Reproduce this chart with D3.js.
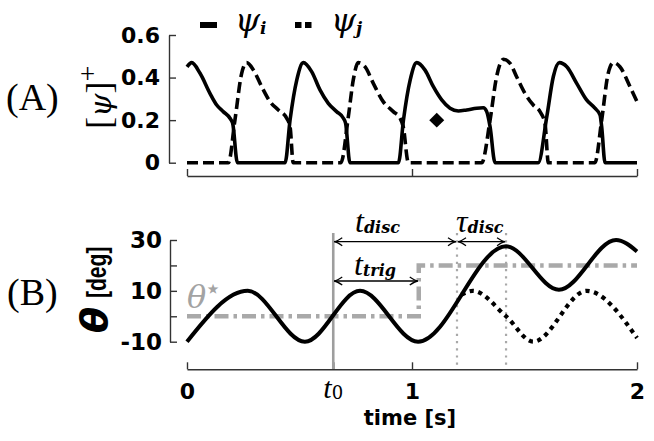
<!DOCTYPE html>
<html><head><meta charset="utf-8">
<script src="https://cdn.jsdelivr.net/npm/d3@7"></script>
<style>body{margin:0;background:#fff}svg{display:block}</style>
</head><body>
<svg id="c" width="654" height="441"></svg>
<script>
// ---------- data ----------
const psiI_t = [0,0.021,0.058,0.102,0.132,0.161,0.191,0.203,0.224,
  0.436,0.458,0.488,0.517,0.554,0.591,0.628,0.665,0.695,0.705,0.724,
  0.94,0.962,0.992,1.021,1.058,1.095,1.132,1.169,1.206,1.243,1.288,1.317,1.332,1.347,1.369,
  1.561,1.599,1.628,1.655,1.688,1.732,1.776,1.813,1.836,1.843,1.858,2];
const psiI_v = [0.45,0.47,0.42,0.326,0.271,0.24,0.209,0.185,0,
  0,0.2,0.389,0.47,0.428,0.342,0.279,0.24,0.209,0.185,0,
  0,0.2,0.389,0.47,0.435,0.357,0.295,0.256,0.243,0.248,0.256,0.258,0.24,0.169,0,
  0,0.216,0.404,0.47,0.451,0.373,0.295,0.256,0.224,0.169,0,0];
const psiJ_t = [0,0.184,0.213,0.243,0.265,0.295,0.332,0.369,0.406,0.443,0.458,0.472,
  0.684,0.717,0.739,0.761,0.791,0.828,0.872,0.917,0.947,0.961,0.984,
  1.31,1.347,1.376,1.406,1.436,1.465,1.502,1.539,1.569,1.591,1.606,
  1.813,1.843,1.872,1.895,1.924,1.969,2];
const psiJ_v = [0,0,0.2,0.42,0.47,0.436,0.357,0.287,0.248,0.209,0.169,0,
  0,0.216,0.389,0.47,0.451,0.373,0.287,0.24,0.209,0.169,0,
  0,0.2,0.404,0.486,0.467,0.404,0.326,0.271,0.24,0.185,0,
  0,0.2,0.42,0.47,0.451,0.357,0.287];
const diamondT = [1.11], diamondV = [0.2];
const yTicksA = [0, 0.2, 0.4, 0.6];
const yTickLabelsA = ["0", "0.2", "0.4", "0.6"];
const xTicksA = [0, 1, 2];

const theta_t = [0, 0.27, 0.524, 0.769, 1.027, 1.418, 1.653, 1.907, 2];
const theta_v = [-10, 10, -10, 10, -10, 27.5, 10.4, 30, 25.5];
const thetaDot_t = [1.22, 1.27, 1.418, 1.539, 1.776, 2];
const thetaDot_v = [8.5, 10, 0, -10, 10, -8.5];
const thetaStar_t = [0, 1.03, 1.03, 2];
const thetaStar_v = [0, 0, 20, 20];
const t0 = 0.65, tTrig = 1.03, tDisc = 1.2, tauDisc = 1.418;
const xTicksB = [0, t0, 1, 2];
const xTickLabelsB = ["0", "", "1", "2"];
const yTicksB = [-10, 0, 10, 20, 30];
const yTickLabelsB = ["-10", "", "10", "", "30"];

// ---------- scales ----------
const svg = d3.select("#c");
const x = d3.scaleLinear().domain([0, 2]).range([187, 637]);
const yA = d3.scaleLinear().domain([0, 0.6]).range([162.7, 35]);
const yB = d3.scaleLinear().domain([-10, 30]).range([341.7, 240]);

const tickFont = "'DejaVu Sans', sans-serif";
function styleAxis(g) {
  g.selectAll("path.domain").attr("stroke", "#333").attr("stroke-width", 1.4);
  g.selectAll(".tick line").attr("stroke", "#333").attr("stroke-width", 1.4);
  g.selectAll(".tick text").attr("font-family", tickFont).attr("font-weight", "bold")
    .attr("font-size", 22).attr("fill", "#000");
}

// ---------- panel A ----------
const gAy = svg.append("g").attr("transform", "translate(169,0)")
  .call(d3.axisLeft(yA).tickValues(yTicksA).tickFormat((d, i) => yTickLabelsA[i])
    .tickSizeInner(-7).tickSizeOuter(0).tickPadding(9));
styleAxis(gAy);
const gAx = svg.append("g").attr("transform", "translate(0,176)")
  .call(d3.axisBottom(x).tickValues(xTicksA).tickFormat("").tickSizeInner(-7).tickSizeOuter(0));
styleAxis(gAx);

const lineA = d3.line().x(d => x(d[0])).y(d => yA(d[1])).curve(d3.curveMonotoneX);
svg.append("path").datum(psiJ_t.map((t, i) => [t, psiJ_v[i]]))
  .attr("d", lineA).attr("fill", "none").attr("stroke", "#000").attr("stroke-width", 3.6)
  .attr("stroke-dasharray", "11,5");
svg.append("path").datum(psiI_t.map((t, i) => [t, psiI_v[i]]))
  .attr("d", lineA).attr("fill", "none").attr("stroke", "#000").attr("stroke-width", 3.6);
svg.selectAll("path.diam").data(diamondT.map((t, i) => [t, diamondV[i]])).join("path")
  .attr("class", "diam")
  .attr("d", d3.symbol(d3.symbolSquare, 112)())
  .attr("transform", d => `translate(${x(d[0])},${yA(d[1])}) rotate(45)`)
  .attr("fill", "#000");

// legend
svg.append("line").attr("x1", 200).attr("x2", 217).attr("y1", 25).attr("y2", 25)
  .attr("stroke", "#000").attr("stroke-width", 6);
svg.append("line").attr("x1", 295).attr("x2", 312).attr("y1", 25).attr("y2", 25)
  .attr("stroke", "#000").attr("stroke-width", 6).attr("stroke-dasharray", "6.5,3.5");
const serif = "'Liberation Serif', 'DejaVu Serif', serif";
const subFont = "'DejaVu Serif', serif";
function mathLabel(xp, yp, main, sub, opts = {}) {
  const t = svg.append("text").attr("x", xp).attr("y", yp).attr("fill", opts.fill || "#000")
    .attr("text-anchor", opts.anchor || "start");
  t.append("tspan").attr("font-family", opts.mainFont || serif).attr("font-style", "italic")
    .attr("font-size", opts.size || 28).text(main);
  t.append("tspan").attr("font-family", subFont).attr("font-style", opts.subStyle || "italic")
    .attr("font-weight", opts.subWeight || "bold")
    .attr("font-size", opts.subSize || 14).attr("dy", opts.subDy || 2).text(sub);
  return t;
}
mathLabel(235, 31, "ψ", "i", {size: 32, subSize: 17, subDy: 3, mainFont: subFont});
mathLabel(331, 31, "ψ", "j", {size: 32, subSize: 17, subDy: 3, mainFont: subFont});

// panel labels
svg.append("text").attr("x", 6).attr("y", 110).attr("font-family", serif)
  .attr("font-size", 38).text("(A)");
svg.append("text").attr("x", 7).attr("y", 305).attr("font-family", serif)
  .attr("font-size", 38).text("(B)");

// [psi]+ label
const ylA = svg.append("text").attr("transform", "translate(111,129) rotate(-90)")
  .attr("font-family", serif).attr("font-size", 36);
ylA.append("tspan").text("[");
ylA.append("tspan").attr("font-style", "italic").attr("font-family", subFont).attr("font-size", 30).text("ψ");
ylA.append("tspan").text("]");
ylA.append("tspan").attr("font-size", 28).attr("dy", -14).text("+");

// ---------- panel B ----------
const gBy = svg.append("g").attr("transform", "translate(170,0)")
  .call(d3.axisLeft(yB).tickValues(yTicksB).tickFormat((d, i) => yTickLabelsB[i])
    .tickSizeInner(-7).tickSizeOuter(0).tickPadding(8));
styleAxis(gBy);
gBy.selectAll(".tick text").attr("font-size", 23);
const gBx = svg.append("g").attr("transform", "translate(0,369.3)")
  .call(d3.axisBottom(x).tickValues(xTicksB).tickFormat((d, i) => xTickLabelsB[i])
    .tickSizeInner(-7).tickSizeOuter(0).tickPadding(14));
styleAxis(gBx);
gBx.selectAll(".tick text").attr("font-size", 22);
// t0 tick label
mathLabel(x(t0), 398, "t", "0", {anchor: "middle", size: 30, subSize: 18, subStyle: "normal", subWeight: "normal", subDy: 1});

svg.append("text").attr("x", 410).attr("y", 425).attr("text-anchor", "middle")
  .attr("font-family", tickFont).attr("font-weight", "bold").attr("font-size", 21).text("time [s]");

// theta [deg] label
svg.append("text").attr("transform", "translate(107,333) rotate(-90)")
  .attr("font-family", "'DejaVu Sans', sans-serif").attr("font-weight", "bold").attr("font-style", "italic")
  .attr("font-size", 38).text("θ");
svg.append("text").attr("transform", "translate(106,298) rotate(-90) scale(0.78,1)")
  .attr("font-family", "'Liberation Sans', Arial, sans-serif").attr("font-weight", "bold")
  .attr("font-size", 27).text("[deg]");

// theta* step
const lineB = d3.line().x(d => x(d[0])).y(d => yB(d[1]));
svg.append("path").datum(thetaStar_t.map((t, i) => [t, thetaStar_v[i]]))
  .attr("d", lineB).attr("fill", "none").attr("stroke", "#a9a9a9").attr("stroke-width", 4.5)
  .attr("stroke-dasharray", "14,5,3.5,5");
const ts = svg.append("text").attr("x", 187).attr("y", 308).attr("fill", "#a3a3a3");
ts.append("tspan").attr("font-family", subFont).attr("font-style", "italic").attr("font-size", 32).text("θ");
ts.append("tspan").attr("font-family", "'DejaVu Sans', sans-serif").attr("font-size", 28).attr("dy", -10).attr("dx", -2).text("⋆");

// vertical markers
svg.append("line").attr("x1", x(t0)).attr("x2", x(t0)).attr("y1", 233).attr("y2", 369)
  .attr("stroke", "#9e9e9e").attr("stroke-width", 2.6);
[tDisc, tauDisc].forEach(t => svg.append("line").attr("x1", x(t)).attr("x2", x(t))
  .attr("y1", 233).attr("y2", 366).attr("stroke", "#a8a8a8").attr("stroke-width", 2.2)
  .attr("stroke-dasharray", "2.2,5"));

// curves
const lineBc = d3.line().x(d => x(d[0])).y(d => yB(d[1])).curve(d3.curveMonotoneX);
svg.append("path").datum(thetaDot_t.map((t, i) => [t, thetaDot_v[i]]))
  .attr("d", lineBc).attr("fill", "none").attr("stroke", "#000").attr("stroke-width", 4.2)
  .attr("stroke-dasharray", "4.2,4.6");
svg.append("path").datum(theta_t.map((t, i) => [t, theta_v[i]]))
  .attr("d", lineBc).attr("fill", "none").attr("stroke", "#000").attr("stroke-width", 4);

// arrows
const defs = svg.append("defs");
defs.append("marker").attr("id", "ah").attr("markerUnits", "userSpaceOnUse")
  .attr("viewBox", "-10 -6 12 12").attr("refX", 0).attr("refY", 0)
  .attr("markerWidth", 12).attr("markerHeight", 12).attr("orient", "auto")
  .append("path").attr("d", "M-8,-4 Q-3,-0.6 0,0 Q-3,0.6 -8,4")
  .attr("fill", "none").attr("stroke", "#000").attr("stroke-width", 1.3);
defs.append("marker").attr("id", "ahs").attr("markerUnits", "userSpaceOnUse")
  .attr("viewBox", "-2 -6 12 12").attr("refX", 0).attr("refY", 0)
  .attr("markerWidth", 12).attr("markerHeight", 12).attr("orient", "auto")
  .append("path").attr("d", "M8,-4 Q3,-0.6 0,0 Q3,0.6 8,4")
  .attr("fill", "none").attr("stroke", "#000").attr("stroke-width", 1.3);
function arrow(t1, t2, yy) {
  svg.append("line").attr("x1", x(t1) + 1).attr("x2", x(t2) - 1).attr("y1", yy).attr("y2", yy)
    .attr("stroke", "#000").attr("stroke-width", 1.3)
    .attr("marker-start", "url(#ahs)").attr("marker-end", "url(#ah)");
}
arrow(t0, tDisc, 241.7);
arrow(tDisc, tauDisc, 241.7);
arrow(t0, tTrig, 281);

mathLabel(355, 232, "t", "disc", {size: 32, subSize: 16, subDy: 1});
mathLabel(354, 275, "t", "trig", {size: 32, subSize: 16, subDy: 1});
mathLabel(456, 232, "τ", "disc", {size: 32, subSize: 16, subDy: 1});
</script>
</body></html>
